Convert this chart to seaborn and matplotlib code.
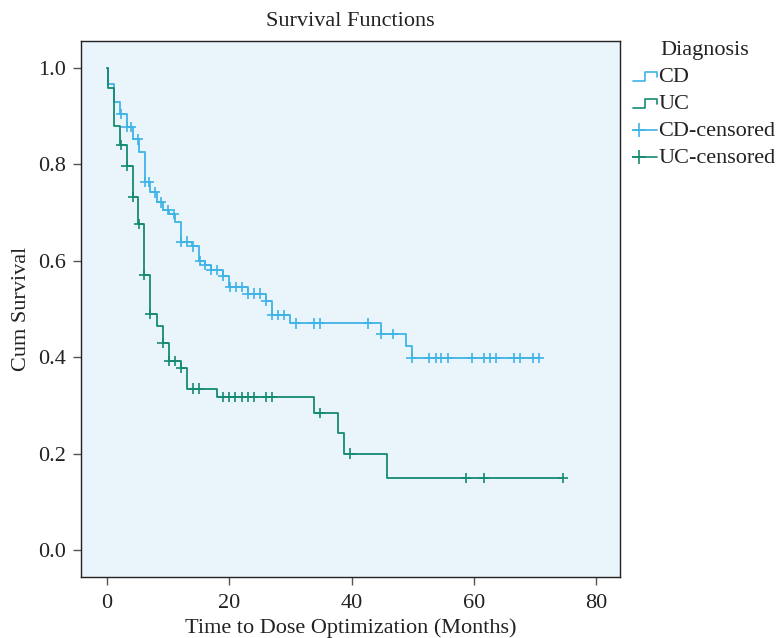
import numpy as np
import pandas as pd
import matplotlib
matplotlib.use("Agg")
import matplotlib.pyplot as plt
from matplotlib.lines import Line2D
from matplotlib.legend_handler import HandlerBase
import seaborn as sns

# Kaplan-Meier steps (time of drop, survival after drop)
cd_times = [0, 0.2, 1.15, 2.2, 3.2, 4.3, 5.3, 6.2, 7.0, 8.1, 9.1, 10.1, 11.1, 12.1,
            13.9, 15.0, 16.0, 17.0, 19.0, 20.0, 23.0, 26.0, 27.0, 30.0, 44.8, 48.9, 49.8]
cd_surv = [1.0, 0.967, 0.930, 0.905, 0.878, 0.852, 0.826, 0.764, 0.742, 0.721, 0.705, 0.697,
           0.681, 0.640, 0.630, 0.600, 0.591, 0.581, 0.569, 0.546, 0.532, 0.517, 0.488, 0.470,
           0.448, 0.423, 0.398]
cd_end = 70.6
cd_censored = [2.3, 3.2, 3.9, 5.0, 6.2, 6.9, 7.9, 8.8, 9.9, 10.9, 12.1, 13.1, 14.1, 15.2,
               16.0, 17.0, 18.0, 19.0, 20.1, 21.1, 22.0, 23.0, 24.0, 25.0, 26.0, 27.0, 28.0,
               29.0, 30.9, 33.9, 34.8, 42.7, 44.8, 46.8, 49.8, 52.7, 53.8, 54.7, 55.7, 59.7,
               61.6, 62.7, 63.6, 66.6, 67.6, 69.6, 70.6]

uc_times = [0, 0.2, 1.15, 2.2, 3.2, 4.2, 5.1, 6.1, 7.1, 8.1, 9.1, 10.1, 12.1, 13.1, 18.05,
            33.9, 37.8, 38.8, 45.75]
uc_surv = [1.0, 0.958, 0.880, 0.840, 0.797, 0.732, 0.676, 0.570, 0.489, 0.465, 0.429, 0.392,
           0.378, 0.335, 0.318, 0.284, 0.242, 0.200, 0.150]
uc_end = 74.6
uc_censored = [2.3, 3.2, 4.3, 5.2, 6.1, 7.1, 9.1, 10.1, 11.1, 12.1, 14.1, 15.05, 19.0, 20.0,
               21.0, 22.0, 23.0, 24.0, 26.0, 27.0, 34.8, 39.8, 58.7, 61.6, 74.6]

CD_COLOR = "#3FB3E6"
UC_COLOR = "#158A72"
BG = "#EAF4FB"
TXT = "#222222"
FS = 16


def curve_frame(name, times, surv, end):
    t = list(times) + [end]
    s = list(surv) + [surv[-1]]
    return pd.DataFrame({"time": t, "surv": s, "Diagnosis": name})


def censor_frame(name, times, surv, cens):
    idx = np.searchsorted(times, cens, side="right") - 1
    return pd.DataFrame({"time": cens, "surv": np.array(surv)[idx], "Diagnosis": name})


class StepHandler(HandlerBase):
    def create_artists(self, legend, orig_handle, xdescent, ydescent, width, height,
                       fontsize, trans):
        x0, x1 = -xdescent, -xdescent + width
        y0, y1 = -ydescent + 0.1 * height, -ydescent + 0.7 * height
        xs = [x0, x0 + 0.5 * width, x0 + 0.5 * width, x1, x1]
        ys = [y0, y0, y1, y1, y0 + 0.25 * height]
        return [Line2D(xs, ys, color=orig_handle.get_color(), lw=1.2, transform=trans)]


class CensorHandler(HandlerBase):
    def create_artists(self, legend, orig_handle, xdescent, ydescent, width, height,
                       fontsize, trans):
        x0, x1 = -xdescent, -xdescent + width
        ym = -ydescent + 0.4 * height
        c = orig_handle.get_color()
        line = Line2D([x0, x1], [ym, ym], color=c, lw=1.2, transform=trans)
        tick = Line2D([x0 + 0.25 * width], [ym], color=c, marker="+", markersize=10,
                      markeredgewidth=1.2, transform=trans)
        return [line, tick]


curves = pd.concat([curve_frame("CD", cd_times, cd_surv, cd_end),
                    curve_frame("UC", uc_times, uc_surv, uc_end)])
cens = pd.concat([censor_frame("CD", cd_times, cd_surv, cd_censored),
                  censor_frame("UC", uc_times, uc_surv, uc_censored)])
palette = {"CD": CD_COLOR, "UC": UC_COLOR}

sns.set_style("ticks")
plt.rcParams["font.family"] = ["Liberation Serif", "DejaVu Serif"]

fig = plt.figure(figsize=(7.82, 6.38), dpi=100)
ax = fig.add_axes([0.1036, 0.0956, 0.6893, 0.8401])
ax.set_facecolor(BG)

sns.lineplot(data=curves, x="time", y="surv", hue="Diagnosis", palette=palette,
             drawstyle="steps-post", lw=1.3, legend=False, ax=ax, sort=False,
             estimator=None)
sns.scatterplot(data=cens, x="time", y="surv", hue="Diagnosis", palette=palette,
                marker="+", s=55, linewidth=1.2, legend=False, ax=ax, zorder=3)

ax.set_xlim(-4.25, 83.9)
ax.set_ylim(-0.056, 1.056)
ax.set_xticks([0, 20, 40, 60, 80])
ax.set_yticks(np.arange(0, 1.01, 0.2))
ax.set_yticklabels([f"{v:.1f}" for v in np.arange(0, 1.01, 0.2)])
ax.tick_params(direction="out", length=6, width=1, color="#555555",
               labelsize=FS, labelcolor=TXT)
ax.tick_params(axis="x", pad=6)
ax.tick_params(axis="y", pad=5)
for sp in ax.spines.values():
    sp.set_color(TXT)
    sp.set_linewidth(1.0)

ax.set_title("Survival Functions", fontsize=FS, color=TXT, pad=11)
ax.set_xlabel("Time to Dose Optimization (Months)", fontsize=FS, color=TXT, labelpad=4)
ax.set_ylabel("Cum Survival", fontsize=FS, color=TXT, labelpad=5)

handles = [Line2D([], [], color=CD_COLOR), Line2D([], [], color=UC_COLOR),
           Line2D([], [], color=CD_COLOR), Line2D([], [], color=UC_COLOR)]
labels = ["CD", "UC", "CD-censored", "UC-censored"]
leg = fig.legend(handles, labels, title="Diagnosis", loc="upper left",
                 bbox_to_anchor=(0.8095, 0.935), frameon=False, fontsize=FS,
                 title_fontsize=FS, handlelength=1.1, handletextpad=0.05,
                 labelspacing=0.29, borderaxespad=0, borderpad=0,
                 handler_map={handles[0]: StepHandler(), handles[1]: StepHandler(),
                              handles[2]: CensorHandler(), handles[3]: CensorHandler()})
leg.get_title().set_color(TXT)
for t in leg.get_texts():
    t.set_color(TXT)

fig.savefig("out.png", dpi=100)
